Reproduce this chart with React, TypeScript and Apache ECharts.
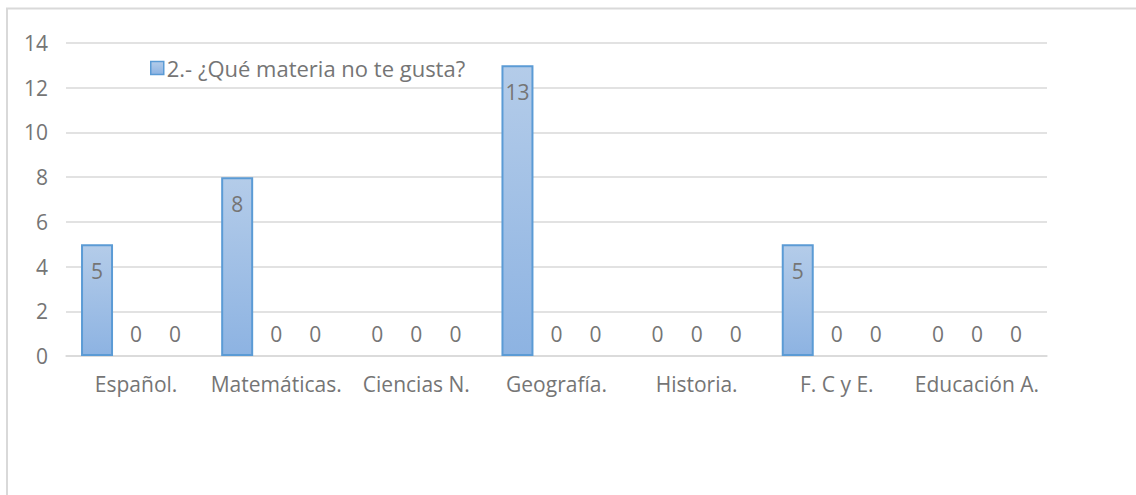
import React, { useEffect, useRef } from "react";
import * as echarts from "echarts";

const categories = ["Español.", "Matemáticas.", "Ciencias N.", "Geografía.", "Historia.", "F. C y E.", "Educación A."];
const seriesName = "2.- ¿Qué materia no te gusta?";
const values1 = [5, 8, 0, 13, 0, 5, 0];
const values2 = [0, 0, 0, 0, 0, 0, 0];
const values3 = [0, 0, 0, 0, 0, 0, 0];
const yMin = 0;
const yMax = 14;
const yInterval = 2;

const FONT = "'Open Sans', sans-serif";
const TEXT = "#757575";
const FS = 21;

export default function App() {
  const ref = useRef<HTMLDivElement>(null);
  useEffect(() => {
    if (!ref.current) return;
    const chart = echarts.init(ref.current, undefined, { renderer: "svg" });
    const barStyle = {
      color: new echarts.graphic.LinearGradient(0, 0, 0, 1, [
        { offset: 0, color: "#b4cce9" },
        { offset: 1, color: "#8db3e2" },
      ]),
      borderColor: "#5b9bd5",
      borderWidth: 2,
    };
    const zeroLabel = {
      show: true,
      position: "top",
      distance: 12,
      color: TEXT,
      fontSize: FS,
      fontFamily: FONT,
    };
    const toItems = (vals: number[]) =>
      vals.map((v) =>
        v === 0
          ? {
              value: v,
              itemStyle: { borderWidth: 0, color: "rgba(0,0,0,0)", borderColor: "rgba(0,0,0,0)" },
              label: { ...zeroLabel },
            }
          : { value: v }
      );
    chart.setOption({
      animation: false,
      textStyle: { fontFamily: FONT },
      graphic: [
        {
          type: "rect",
          shape: { x: 7, y: 8.5, width: 1300, height: 700 },
          style: { fill: "none", stroke: "#d9d9d9", lineWidth: 2 },
          silent: true,
        },
      ],
      grid: { left: 66, right: 89, top: 43, bottom: 139, containLabel: false },
      legend: {
        data: [seriesName],
        left: 145,
        top: 52,
        itemWidth: 13,
        itemHeight: 13,
        icon: "rect",
        textStyle: { color: TEXT, fontSize: 22, fontFamily: FONT, padding: [0, 0, 0, -2] },
        itemStyle: { borderColor: "#5b9bd5", borderWidth: 1.5 },
      },
      xAxis: {
        type: "category",
        data: categories,
        axisLine: { lineStyle: { color: "#d9d9d9", width: 1.5 } },
        axisTick: { show: false },
        axisLabel: { color: TEXT, fontSize: FS, fontFamily: FONT, margin: 17, interval: 0 },
      },
      yAxis: {
        type: "value",
        min: yMin,
        max: yMax,
        interval: yInterval,
        axisLine: { show: false },
        axisTick: { show: false },
        splitLine: { lineStyle: { color: "#d9d9d9", width: 1.5 } },
        axisLabel: { color: TEXT, fontSize: FS, fontFamily: FONT, margin: 18 },
      },
      series: [
        {
          name: seriesName,
          type: "bar",
          data: toItems(values1),
          barWidth: 32,
          barGap: "22%",
          itemStyle: barStyle,
          label: {
            show: true,
            position: "insideTop",
            distance: 16,
            color: TEXT,
            fontSize: FS,
            fontFamily: FONT,
          },
        },
        {
          name: "s2",
          type: "bar",
          data: toItems(values2),
          barWidth: 32,
          barGap: "22%",
          itemStyle: barStyle,
          label: zeroLabel,
        },
        {
          name: "s3",
          type: "bar",
          data: toItems(values3),
          barWidth: 32,
          barGap: "22%",
          itemStyle: barStyle,
          label: zeroLabel,
        },
      ],
    });
    return () => chart.dispose();
  }, []);
  return (
    <div
      ref={ref}
      style={{ position: "fixed", left: 0, top: 0, width: 1136, height: 495, background: "#fff" }}
    />
  );
}
